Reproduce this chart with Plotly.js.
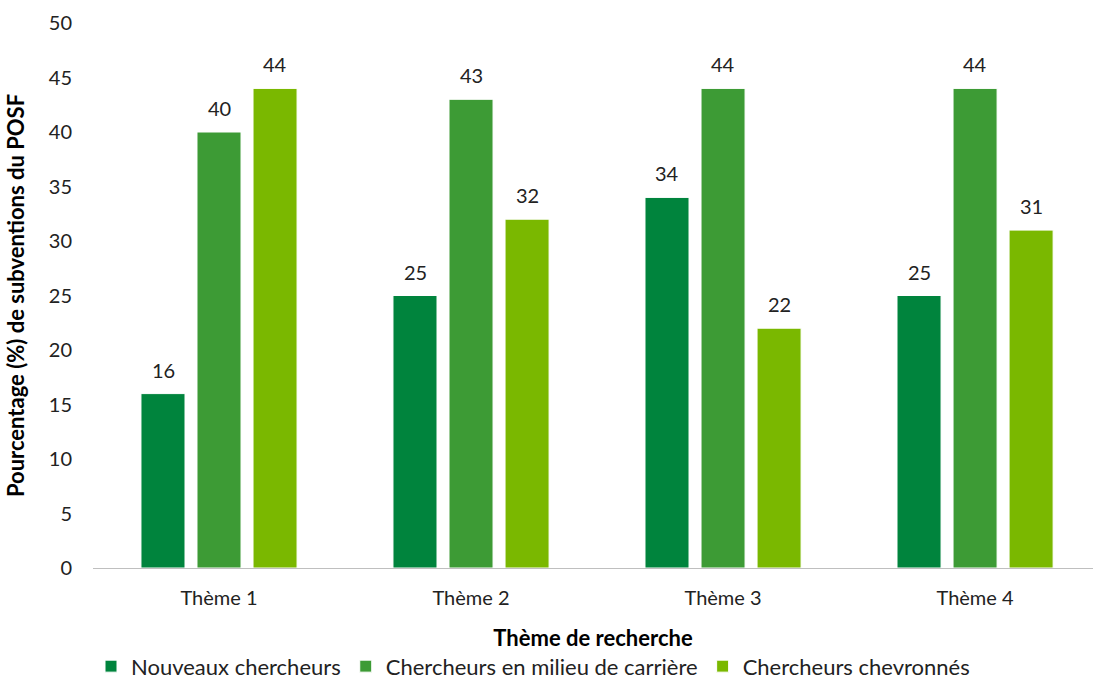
<!DOCTYPE html>
<html>
<head>
<meta charset="utf-8">
<script src="https://cdn.plot.ly/plotly-3.0.1.min.js"></script>
<style>html,body{margin:0;padding:0;background:#fff;}#chart{width:1093px;height:688px;}</style>
</head>
<body>
<div id="chart"></div>
<script>
const categories = ["Thème 1", "Thème 2", "Thème 3", "Thème 4"];
const seriesNames = ["Nouveaux chercheurs", "Chercheurs en milieu de carrière", "Chercheurs chevronnés"];
const nouveaux = [16, 25, 34, 25];
const milieu = [40, 43, 44, 44];
const chevronnes = [44, 32, 22, 31];
const colors = ["#00843D", "#3D9B35", "#7AB800"];
const allValues = [nouveaux, milieu, chevronnes];

const font = "Lato, 'Open Sans', sans-serif";
const traces = allValues.map((vals, i) => ({
  type: "bar",
  name: seriesNames[i],
  x: categories,
  y: vals,
  marker: {color: colors[i], line: {color: "#ffffff", width: 1}}
}));

// data labels above bars (positions from data via axes; horizontal offset per group slot)
const slotPx = 56;
const annotations = [];
allValues.forEach((vals, i) => {
  vals.forEach((v, j) => {
    annotations.push({
      x: categories[j], y: v, xref: "x", yref: "y",
      text: String(v), showarrow: false,
      xshift: (i - 1) * slotPx, yshift: 10, yanchor: "bottom",
      font: {family: font, size: 20, color: "#222"}
    });
  });
});

const layout = {
  width: 1093, height: 688,
  margin: {l: 93, r: 0, t: 23, b: 120},
  paper_bgcolor: "#fff", plot_bgcolor: "#fff",
  barmode: "group",
  bargap: 0.333,
  bargroupgap: 0.214,
  font: {family: font, size: 20, color: "#222"},
  annotations: annotations,
  xaxis: {
    range: [-0.5, 3.468], automargin: false,
    showline: true, linecolor: "#bfbfbf", linewidth: 1,
    ticks: "", showgrid: false,
    ticklabelstandoff: 12,
    tickfont: {family: font, size: 20, color: "#222"},
    title: {text: "<b>Thème de recherche</b>", font: {family: font, size: 22, color: "#000"}, standoff: 22}
  },
  yaxis: {
    range: [0, 50], dtick: 5, automargin: false,
    showgrid: false, zeroline: false, showline: false, ticks: "",
    tickfont: {family: font, size: 20, color: "#222"},
    ticklabelstandoff: 20,
    title: {text: "<b>Pourcentage (%) de subventions du POSF</b>", font: {family: font, size: 22, color: "#000"}, standoff: 18}
  },
  legend: {
    orientation: "h", x: 0.44, xanchor: "center", y: -0.219, yanchor: "bottom",
    font: {family: font, size: 22, color: "#222"},
    itemwidth: 30, tracegroupgap: 0
  },
  showlegend: true
};

Plotly.newPlot("chart", traces, layout, {displayModeBar: false, staticPlot: true});
</script>
</body>
</html>
